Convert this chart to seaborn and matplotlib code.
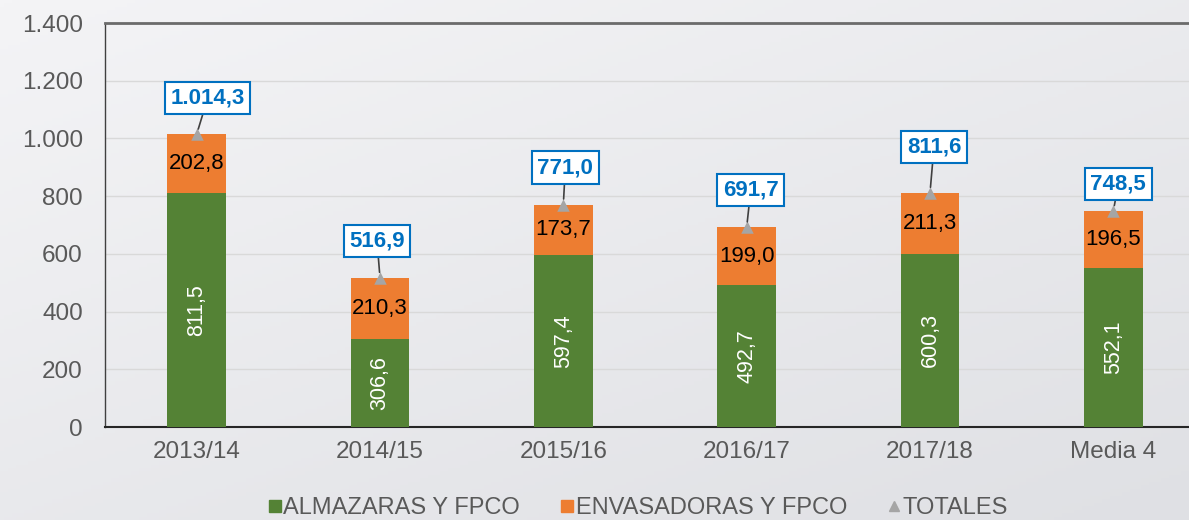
import numpy as np
import pandas as pd
import matplotlib
matplotlib.use("Agg")
import matplotlib.pyplot as plt
import seaborn as sns
from matplotlib.lines import Line2D
from matplotlib.ticker import FuncFormatter
from matplotlib.colors import LinearSegmentedColormap

# ---- data ----
campanas = ["2013/14", "2014/15", "2015/16", "2016/17", "2017/18", "Media 4"]
almazaras = [811.5, 306.6, 597.4, 492.7, 600.3, 552.1]
envasadoras = [202.8, 210.3, 173.7, 199.0, 211.3, 196.5]
totales = [1014.3, 516.9, 771.0, 691.7, 811.6, 748.5]
y_ticks = [0, 200, 400, 600, 800, 1000, 1200, 1400]
serie_labels = ["ALMAZARAS Y FPCO", "ENVASADORAS Y FPCO", "TOTALES"]

# label box offsets in pixels (styling)
total_label_offsets = [(11, 36), (-3, 37), (2, 37), (4, 37), (4, 46), (5, 27)]

GREEN = "#548235"
ORANGE = "#ed7d31"
GRAY = "#a5a5a5"
BLUE = "#0070c0"
TXT = "#595959"


def fmt_es(v, dec=1):
    s = f"{v:,.{dec}f}"
    return s.replace(",", "X").replace(".", ",").replace("X", ".")


df = pd.DataFrame({"campana": campanas, "almazaras": almazaras,
                   "envasadoras": envasadoras, "total": totales})

sns.set_theme(style="white")
plt.rcParams["font.family"] = ["Liberation Sans", "DejaVu Sans"]

W, H = 1189, 520
fig = plt.figure(figsize=(W / 100, H / 100), dpi=100)

# gradient background
bg = fig.add_axes([0, 0, 1, 1], zorder=-10)
xx, yy = np.meshgrid(np.linspace(0, 1, 300), np.linspace(0, 1, 150))
zz = 0.45 * xx + 0.55 * yy
cmap = LinearSegmentedColormap.from_list("bg", ["#f4f4f6", "#dfe0e4"])
bg.imshow(zz, cmap=cmap, extent=[0, 1, 0, 1], aspect="auto", origin="upper")
bg.axis("off")

ax = fig.add_axes([105 / W, 1 - 427 / H, 1100 / W, 404 / H])
ax.set_facecolor("none")

sns.barplot(data=df, x="campana", y="total", color=ORANGE, saturation=1,
            width=0.32, errorbar=None, ax=ax, linewidth=0, zorder=2)
sns.barplot(data=df, x="campana", y="almazaras", color=GREEN, saturation=1,
            width=0.32, errorbar=None, ax=ax, linewidth=0, zorder=3)
sns.stripplot(data=df, x="campana", y="total", marker="^", color=GRAY,
              size=9, jitter=False, ax=ax, linewidth=0, zorder=4)

ax.set_xlim(-0.5, 5.5)
ax.set_ylim(0, 1400)
ax.set_yticks(y_ticks)
ax.yaxis.set_major_formatter(FuncFormatter(lambda v, p: fmt_es(v, 0)))
ax.set_xlabel("")
ax.set_ylabel("")
ax.yaxis.grid(True, color="#d9d9d9", lw=1)
ax.set_axisbelow(True)
ax.tick_params(axis="both", length=0, labelsize=17.5, colors=TXT)
ax.tick_params(axis="y", pad=16)
ax.tick_params(axis="x", pad=10)

ax.spines["top"].set_color("#6b6b6b")
ax.spines["top"].set_linewidth(2)
ax.spines["left"].set_color("#404040")
ax.spines["left"].set_linewidth(1)
ax.spines["bottom"].set_color("#262626")
ax.spines["bottom"].set_linewidth(1.5)
ax.spines["right"].set_visible(False)

for i, (a, e, t) in enumerate(zip(almazaras, envasadoras, totales)):
    ax.text(i, a / 2, fmt_es(a), rotation=90, ha="center", va="center",
            color="white", fontsize=15.5, zorder=5)
    ax.text(i, a + (t - a) / 2, fmt_es(e), ha="center", va="center",
            color="black", fontsize=16, zorder=5)
    ax.annotate(fmt_es(t), xy=(i, t), xytext=total_label_offsets[i],
                textcoords="offset pixels", ha="center", va="center",
                fontsize=16, fontweight="bold", color=BLUE, zorder=6,
                bbox=dict(boxstyle="square,pad=0.25", fc="white", ec=BLUE, lw=1.5),
                arrowprops=dict(arrowstyle="-", color="#404040", lw=1.2,
                                shrinkA=0, shrinkB=4))

handles = [
    Line2D([], [], marker="s", color=GREEN, linestyle="", markersize=8),
    Line2D([], [], marker="s", color=ORANGE, linestyle="", markersize=8),
    Line2D([], [], marker="^", color=GRAY, linestyle="", markersize=7),
]
fig.legend(handles, serie_labels, loc="center", bbox_to_anchor=(638 / W, 1 - 508 / H),
           ncol=3, frameon=False, fontsize=17, handletextpad=0.05,
           columnspacing=1.7, handlelength=0.6, labelcolor=TXT)

fig.savefig("out.png", dpi=100)
